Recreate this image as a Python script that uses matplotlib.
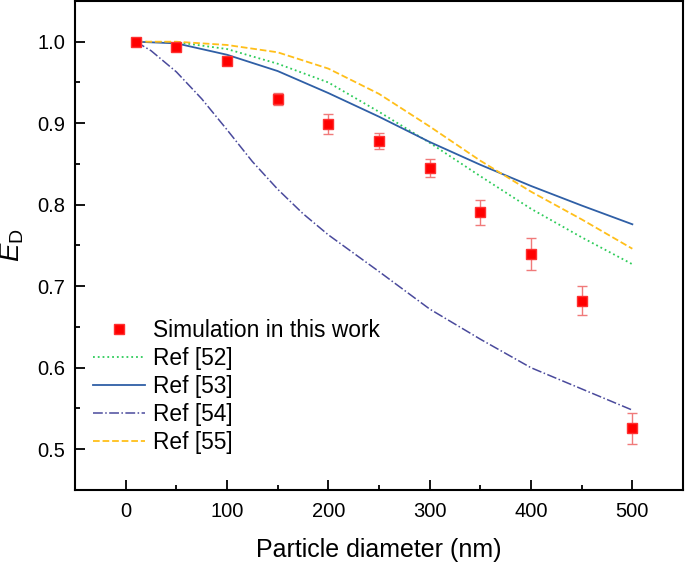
import matplotlib
matplotlib.use("Agg")
import matplotlib.pyplot as plt
from matplotlib.ticker import MultipleLocator

plt.rcParams['font.family'] = ['Liberation Sans', 'DejaVu Sans']
plt.rcParams['mathtext.fontset'] = 'custom'
plt.rcParams['mathtext.rm'] = 'Liberation Sans'
plt.rcParams['mathtext.it'] = 'Liberation Sans:italic'

# simulation results
sim_d = [10, 50, 100, 150, 200, 250, 300, 350, 400, 450, 500]
sim_ed = [1.0, 0.994, 0.976, 0.930, 0.899, 0.878, 0.845, 0.791, 0.740, 0.682, 0.526]
sim_err = [0.002, 0.002, 0.002, 0.0075, 0.012, 0.0095, 0.0116, 0.0153, 0.0196, 0.0177, 0.019]

# reference curves
ref_d = [10, 50, 100, 150, 200, 250, 300, 350, 400, 450, 500]
ref52 = [1.0, 0.9995, 0.991, 0.973, 0.950, 0.914, 0.876, 0.835, 0.795, 0.760, 0.727]
ref53 = [1.0, 0.998, 0.984, 0.964, 0.937, 0.908, 0.877, 0.849, 0.823, 0.799, 0.776]
ref55 = [1.0, 1.0, 0.996, 0.987, 0.967, 0.936, 0.896, 0.854, 0.816, 0.782, 0.746]
ref54_d = [10, 25, 50, 75, 100, 125, 150, 175, 200, 250, 300, 350, 400, 450, 500]
ref54 = [1.0, 0.989, 0.963, 0.930, 0.892, 0.853, 0.819, 0.789, 0.763, 0.718, 0.672,
         0.635, 0.600, 0.574, 0.548]

fig = plt.figure(figsize=(6.85, 5.63), dpi=100)
ax = fig.add_axes([0.1095, 0.1297, 0.8876, 0.8686])

ax.plot(ref_d, ref52, ':', color='#2ecc5a', lw=1.3, label='Ref [52]')
ax.plot(ref_d, ref53, '-', color='#2f5fa6', lw=1.3, label='Ref [53]')
ax.plot(ref54_d, ref54, '-.', color='#4a4a9c', lw=1.1, label='Ref [54]')
ax.plot(ref_d, ref55, '--', color='#ffbf1a', lw=1.3, label='Ref [55]')

ax.errorbar(sim_d, sim_ed, yerr=sim_err, fmt='none', ecolor='#f07a7a',
            elinewidth=1.0, capsize=3.6, capthick=1.0, zorder=3)
ax.plot(sim_d, sim_ed, 's', color='#ff0000', mec='#ff3030', ms=7.5,
        ls='none', label='Simulation in this work', zorder=4)

ax.set_xlim(-50, 550)
ax.set_ylim(0.45, 1.05)
ax.xaxis.set_major_locator(MultipleLocator(100))
ax.xaxis.set_minor_locator(MultipleLocator(50))
ax.yaxis.set_major_locator(MultipleLocator(0.1))
ax.yaxis.set_minor_locator(MultipleLocator(0.05))
ax.tick_params(which='both', direction='in', width=1.3, labelsize=14.5)
ax.tick_params(which='major', length=7)
ax.tick_params(which='minor', length=3.5)
ax.tick_params(axis='x', pad=9)
ax.tick_params(axis='y', pad=7)
for s in ax.spines.values():
    s.set_linewidth(1.5)

ax.set_xlabel('Particle diameter (nm)', fontsize=18, labelpad=12)
ax.set_ylabel(r'$E_{\mathrm{D}}$', fontsize=20, labelpad=8)

h, l = ax.get_legend_handles_labels()
order = [4, 0, 1, 2, 3]
ax.legend([h[i] for i in order], [l[i] for i in order], loc='upper left',
          bbox_to_anchor=(0.03, 0.35), frameon=False, fontsize=16.4,
          borderpad=0, borderaxespad=0, handlelength=2.27,
          handletextpad=0.35, labelspacing=0.22)

fig.savefig('out.png', dpi=100)
